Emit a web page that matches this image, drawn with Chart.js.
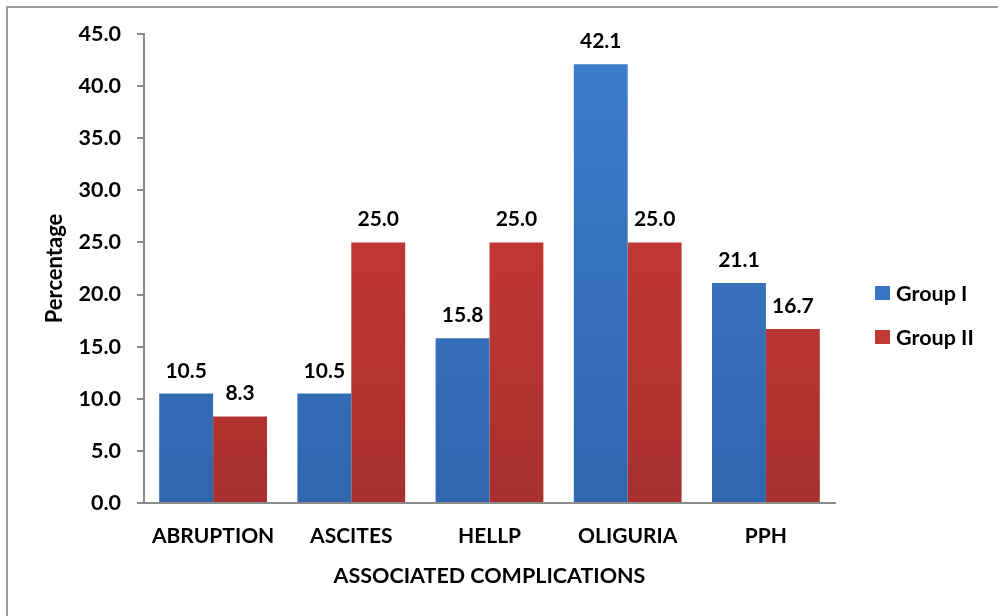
<!DOCTYPE html>
<html>
<head>
<meta charset="utf-8">
<script src="https://cdn.jsdelivr.net/npm/chart.js@4.4.1/dist/chart.umd.min.js"></script>
<style>
  html, body { margin: 0; padding: 0; background: #fff; overflow: hidden; }
  #wrap { position: relative; width: 998px; height: 616px; }
  #frame { position: absolute; left: 6px; top: 6px; width: 1200px; height: 1000px; border: 2px solid #9c9c9c; box-sizing: border-box; pointer-events: none; }
</style>
</head>
<body>
<div id="wrap">
  <canvas id="myChart" width="998" height="616"></canvas>
  <div id="frame"></div>
</div>
<script>
const categories = ['ABRUPTION', 'ASCITES', 'HELLP', 'OLIGURIA', 'PPH']
const groupI = [10.5, 10.5, 15.8, 42.1, 21.1]
const groupII = [8.3, 25.0, 25.0, 25.0, 16.7]
const yTicks = [0, 5, 10, 15, 20, 25, 30, 35, 40, 45]

const sans = 'Lato, "Open Sans", sans-serif'
Chart.defaults.font.family = sans
Chart.defaults.font.weight = 'bold'
Chart.defaults.font.size = 21
Chart.defaults.color = '#000'

// vertical shading on the bars, lighter at the top
const shade = (top, bottom) => (context) => {
    const area = context.chart.chartArea
    if (!area) return bottom
    const g = context.chart.ctx.createLinearGradient(0, area.top, 0, area.bottom)
    g.addColorStop(0, top)
    g.addColorStop(1, bottom)
    return g
}
const solid = ['#3a74c4', '#c23834']

// value written above every bar
const barValues = {
    id: 'barValues',
    afterDatasetsDraw(chart) {
        const ctx = chart.ctx
        ctx.save()
        ctx.font = 'bold 21px ' + sans
        ctx.fillStyle = '#000'
        ctx.textAlign = 'center'
        ctx.textBaseline = 'alphabetic'
        chart.data.datasets.forEach((ds, i) => {
            chart.getDatasetMeta(i).data.forEach((bar, j) => {
                ctx.fillText(ds.data[j].toFixed(1), bar.x, bar.y - 16)
            })
        })
        ctx.restore()
    }
}

// legend to the right of the plot
const sideLegend = {
    id: 'sideLegend',
    afterDraw(chart) {
        const ctx = chart.ctx
        const x0 = chart.chartArea.right + 40
        const y0 = 293
        ctx.save()
        ctx.font = 'bold 21.5px ' + sans
        ctx.textBaseline = 'middle'
        chart.data.datasets.forEach((ds, i) => {
            const y = y0 + i * 44
            ctx.fillStyle = solid[i]
            ctx.fillRect(x0, y - 7, 15, 14)
            ctx.fillStyle = '#000'
            ctx.fillText(ds.label, x0 + 21, y + 1)
        })
        ctx.restore()
    }
}

const ctx = document.getElementById('myChart').getContext('2d')
const myChart = new Chart(ctx, {
    type: 'bar',
    data: {
        labels: categories,
        datasets: [{
            label: 'Group I',
            data: groupI,
            backgroundColor: shade('#3f7dcd', '#2f66ae'),
            borderWidth: 0
        }, {
            label: 'Group II',
            data: groupII,
            backgroundColor: shade('#d23d39', '#a8302d'),
            borderWidth: 0
        }]
    },
    options: {
        responsive: false,
        animation: false,
        layout: {
            padding: { left: 10, right: 163, top: 34, bottom: 6 }
        },
        datasets: {
            bar: { categoryPercentage: 0.78, barPercentage: 1 }
        },
        plugins: {
            tooltip: { enabled: false },
            legend: { display: false }
        },
        scales: {
            x: {
                grid: { display: false },
                border: { color: '#8a8a8a', width: 2 },
                ticks: { padding: 13, font: { size: 21 } },
                title: {
                    display: true,
                    text: 'ASSOCIATED COMPLICATIONS',
                    font: { size: 21.5, weight: 'bold' },
                    padding: { top: 8, bottom: 21 }
                },
                afterFit: (scale) => { scale.height = 107 }
            },
            y: {
                min: 0,
                max: 45,
                afterBuildTicks: (scale) => { scale.ticks = yTicks.map(v => ({ value: v })) },
                grid: { drawOnChartArea: false, tickLength: 7, color: '#8a8a8a', lineWidth: 2 },
                border: { color: '#8a8a8a', width: 2 },
                ticks: {
                    padding: 16,
                    font: { size: 21.5, weight: 'bold' },
                    callback: (v) => Number(v).toFixed(1)
                },
                title: {
                    display: true,
                    text: 'Percentage',
                    font: { size: 22, weight: 'bold' },
                    padding: { top: 32, bottom: 6 }
                },
                afterFit: (scale) => {
                    scale.width = 134
                    scale.paddingTop = 0
                    scale.paddingBottom = 0
                }
            }
        }
    },
    plugins: [barValues, sideLegend]
})
</script>
</body>
</html>
